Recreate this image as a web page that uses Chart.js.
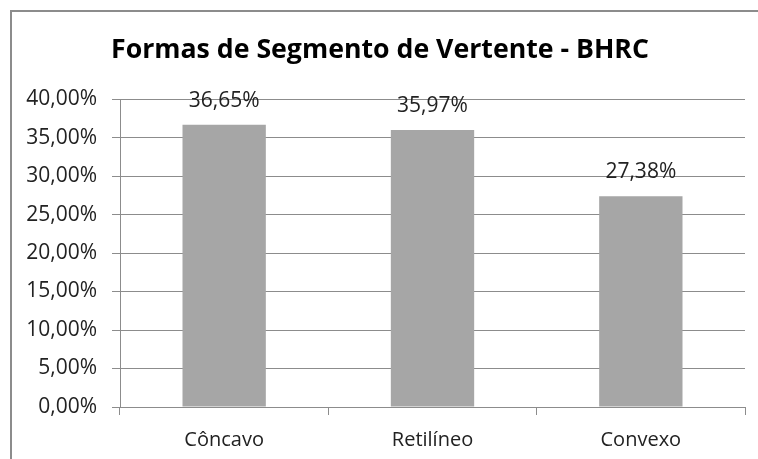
<!DOCTYPE html>
<html>
<head>
<meta charset="utf-8">
<script src="https://cdn.jsdelivr.net/npm/chart.js@4"></script>
<style>
html,body{margin:0;padding:0;background:#fff;overflow:hidden;}
#wrap{position:absolute;left:0;top:0;width:758px;height:459px;}
</style>
</head>
<body>
<div id="wrap"><canvas id="c" width="758" height="459"></canvas></div>
<script>
const titleText = "Formas de Segmento de Vertente - BHRC";
const categories = ["Côncavo", "Retilíneo", "Convexo"];
const values = [36.65, 35.97, 27.38];
const yTicks = [0, 5, 10, 15, 20, 25, 30, 35, 40];

const FONT = "'Open Sans', 'Noto Sans', sans-serif";
const fmt = v => v.toFixed(2).replace('.', ',') + '%';

const framePlugin = {
  id: 'frame',
  beforeDraw(chart) {
    const ctx = chart.ctx;
    ctx.save();
    ctx.fillStyle = '#fff';
    ctx.fillRect(0, 0, chart.width, chart.height);
    ctx.strokeStyle = '#8c8c8c';
    ctx.lineWidth = 2;
    ctx.beginPath();
    ctx.moveTo(11, chart.height);
    ctx.lineTo(11, 11);
    ctx.lineTo(chart.width, 11);
    ctx.stroke();
    ctx.restore();
  }
};

const labelPlugin = {
  id: 'valueLabels',
  afterDatasetsDraw(chart) {
    const ctx = chart.ctx;
    const meta = chart.getDatasetMeta(0);
    ctx.save();
    ctx.font = "21px " + FONT;
    ctx.fillStyle = '#222';
    ctx.textAlign = 'center';
    ctx.textBaseline = 'middle';
    meta.data.forEach((bar, i) => {
      ctx.fillText(fmt(values[i]), bar.x, bar.y - 24);
    });
    ctx.restore();
  }
};

new Chart(document.getElementById('c'), {
  type: 'bar',
  data: {
    labels: categories,
    datasets: [{
      data: values,
      backgroundColor: '#a6a6a6',
      borderWidth: 0,
      categoryPercentage: 1,
      barPercentage: 0.4
    }]
  },
  options: {
    responsive: false,
    animation: false,
    devicePixelRatio: 1,
    layout: { padding: { left: 15, right: 13, top: 0, bottom: 0 } },
    plugins: {
      legend: { display: false },
      tooltip: { enabled: false },
      title: {
        display: true,
        text: titleText,
        color: '#000',
        font: { family: FONT, size: 26.7, weight: 'bold' },
        padding: { top: 34, bottom: 33 }
      }
    },
    scales: {
      x: {
        offset: true,
        afterFit(scale) { scale.height = 52; },
        grid: { offset: true, drawOnChartArea: false, drawTicks: true, tickLength: 8, color: '#8c8c8c', lineWidth: 1 },
        border: { color: '#8c8c8c', width: 1 },
        ticks: { color: '#222', font: { family: FONT, size: 20 }, padding: 13 }
      },
      y: {
        min: 0, max: 40,
        afterBuildTicks(scale) { scale.ticks = yTicks.map(v => ({ value: v })); },
        afterFit(scale) { scale.width = 105; },
        grid: { color: '#8c8c8c', lineWidth: 1, tickLength: 8 },
        border: { color: '#8c8c8c', width: 1 },
        ticks: {
          color: '#222',
          font: { family: FONT, size: 21 },
          padding: 15,
          callback: v => fmt(v)
        }
      }
    }
  },
  plugins: [framePlugin, labelPlugin]
});
</script>
</body>
</html>
